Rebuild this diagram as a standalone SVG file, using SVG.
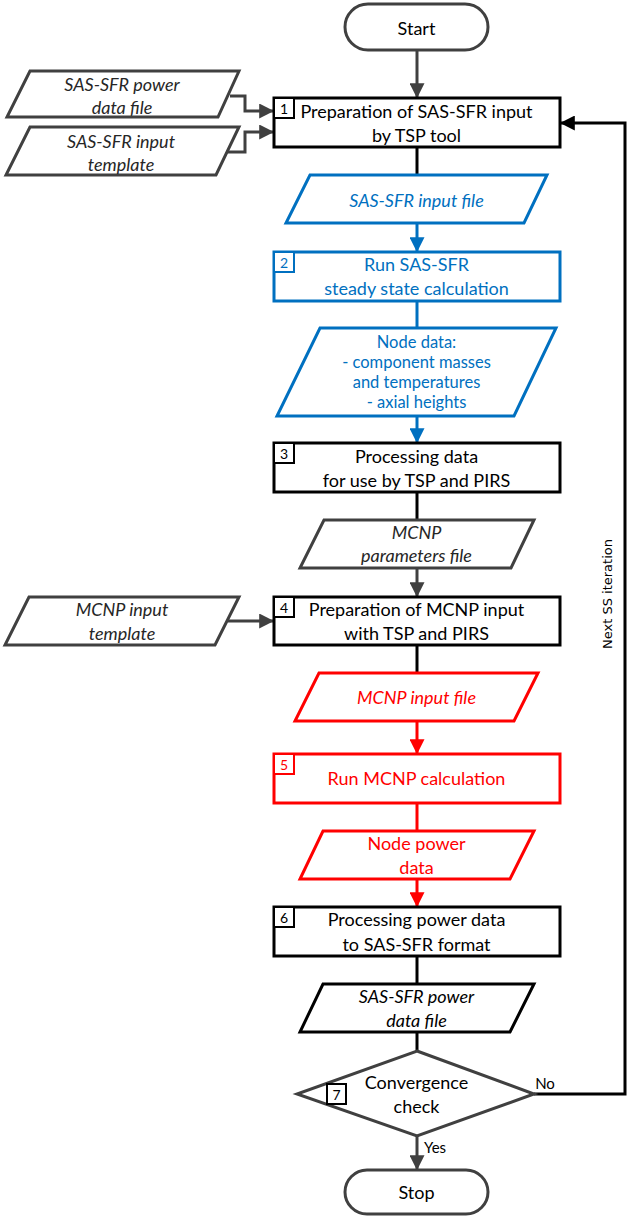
<svg xmlns="http://www.w3.org/2000/svg" width="627" height="1216" viewBox="0 0 627 1216">
<style>
text{font-family:Lato,"Open Sans","Liberation Sans",sans-serif;text-anchor:middle;dominant-baseline:central}
.t{font-size:18px}
.s{font-size:16.5px}
.i{font-style:italic}
.n{font-size:14px}
.y{font-size:15px}
.nb{fill:#fff;stroke-width:2}
.shape{fill:#fff;stroke-width:3;stroke-linejoin:miter}
.gray{stroke:#404040}
.blk{stroke:#000}
.blue{stroke:#0070C0}
.red{stroke:#FF0000}
.cg{fill:#262626}
.cb{fill:#0070C0}
.cr{fill:#FF0000}
.ck{fill:#000}
.line{fill:none;stroke-width:3}
</style>
<defs>
<marker id="ag" markerWidth="5" markerHeight="5" refX="4.6" refY="2.5" orient="auto" markerUnits="strokeWidth"><path d="M0,0L5,2.5L0,5z" fill="#404040"/></marker>
<marker id="ak" markerWidth="5" markerHeight="5" refX="4.6" refY="2.5" orient="auto" markerUnits="strokeWidth"><path d="M0,0L5,2.5L0,5z" fill="#000"/></marker>
<marker id="ab" markerWidth="5" markerHeight="5" refX="4.6" refY="2.5" orient="auto" markerUnits="strokeWidth"><path d="M0,0L5,2.5L0,5z" fill="#0070C0"/></marker>
<marker id="ar" markerWidth="5" markerHeight="5" refX="4.6" refY="2.5" orient="auto" markerUnits="strokeWidth"><path d="M0,0L5,2.5L0,5z" fill="#FF0000"/></marker>
</defs>

<g id="connectors">
<path class="line gray" d="M417,50V97" marker-end="url(#ag)"/>
<path class="line gray" d="M230,96H245V111H273" marker-end="url(#ag)"/>
<path class="line gray" d="M228,152H245V132H273" marker-end="url(#ag)"/>
<path class="line blk" d="M417,147V175"/>
<path class="line blue" d="M417,223V251" marker-end="url(#ab)"/>
<path class="line blue" d="M417,301V328"/>
<path class="line blue" d="M417,416V442" marker-end="url(#ab)"/>
<path class="line blk" d="M417,492V520"/>
<path class="line gray" d="M417,568V596" marker-end="url(#ag)"/>
<path class="line gray" d="M228,621H273" marker-end="url(#ag)"/>
<path class="line blk" d="M417,645V673"/>
<path class="line red" d="M417,721V753" marker-end="url(#ar)"/>
<path class="line red" d="M417,803V831"/>
<path class="line red" d="M417,879V906" marker-end="url(#ar)"/>
<path class="line blk" d="M417,956V984"/>
<path class="line blk" d="M417,1032V1051"/>
<path class="line gray" d="M417,1136V1169" marker-end="url(#ag)"/>
<path class="line blk" d="M534,1094H625V123H561" marker-end="url(#ak)"/>
<text x="545" y="1083" class="y ck">No</text>
<text x="435" y="1147" class="y ck">Yes</text>
<text x="607" y="594" transform="rotate(-90 607 594)" style="font-family:'DejaVu Sans',sans-serif;font-size:13px" class="ck">Next SS iteration</text>
</g>

<g id="start">
<rect x="345" y="4" width="143" height="46" rx="23" class="shape gray"/>
<text x="416.5" y="28" class="t ck">Start</text>
</g>

<g id="in-power">
<polygon points="30,71 239,71 218,117 7,117" class="shape gray"/>
<text x="122" y="84" class="t i cg">SAS-SFR power</text>
<text x="122" y="107" class="t i cg">data file</text>
</g>

<g id="in-template">
<polygon points="30,127 239,127 216,175 6,175" class="shape gray"/>
<text x="121" y="141" class="t i cg">SAS-SFR input</text>
<text x="121" y="164" class="t i cg">template</text>
</g>

<g id="step1">
<rect x="274" y="98" width="286" height="49" class="shape blk"/>
<rect x="274" y="98" width="20" height="20" class="nb blk"/>
<text x="284" y="108.5" class="n ck">1</text>
<text x="416.5" y="111" class="t ck">Preparation of SAS-SFR input</text>
<text x="416.5" y="135" class="t ck">by TSP tool</text>
</g>

<g id="sas-input-file">
<polygon points="310,175 547,175 524,223 286,223" class="shape blue"/>
<text x="416.5" y="200" class="t i cb">SAS-SFR input file</text>
</g>

<g id="step2">
<rect x="274" y="252" width="286" height="49" class="shape blue"/>
<rect x="274" y="252" width="20" height="20" class="nb blue"/>
<text x="284" y="262.5" class="n cb">2</text>
<text x="416.5" y="264" class="t cb">Run SAS-SFR</text>
<text x="416.5" y="288" class="t cb">steady state calculation</text>
</g>

<g id="node-data">
<polygon points="320,328 556,328 514,416 277,416" class="shape blue"/>
<text x="416.5" y="342" class="s cb">Node data:</text>
<text x="416.5" y="362" class="s cb">- component masses</text>
<text x="416.5" y="382" class="s cb">and temperatures</text>
<text x="416.5" y="402" class="s cb">- axial heights</text>
</g>

<g id="step3">
<rect x="274" y="443" width="286" height="49" class="shape blk"/>
<rect x="274" y="443" width="20" height="20" class="nb blk"/>
<text x="284" y="453.5" class="n ck">3</text>
<text x="416.5" y="456" class="t ck">Processing data</text>
<text x="416.5" y="480" class="t ck">for use by TSP and PIRS</text>
</g>

<g id="mcnp-params">
<polygon points="324,520 534,520 511,568 300,568" class="shape gray"/>
<text x="416.5" y="532" class="t i cg">MCNP</text>
<text x="416.5" y="555" class="t i cg">parameters file</text>
</g>

<g id="mcnp-template">
<polygon points="29,597 239,597 215,645 5,645" class="shape gray"/>
<text x="122" y="609" class="t i cg">MCNP input</text>
<text x="122" y="633" class="t i cg">template</text>
</g>

<g id="step4">
<rect x="274" y="597" width="286" height="48" class="shape blk"/>
<rect x="274" y="597" width="20" height="20" class="nb blk"/>
<text x="284" y="607.5" class="n ck">4</text>
<text x="416.5" y="609" class="t ck">Preparation of MCNP input</text>
<text x="416.5" y="633" class="t ck">with TSP and PIRS</text>
</g>

<g id="mcnp-input-file">
<polygon points="319,673 538,673 514,721 295,721" class="shape red"/>
<text x="416.5" y="697" class="t i cr">MCNP input file</text>
</g>

<g id="step5">
<rect x="274" y="754" width="286" height="49" class="shape red"/>
<rect x="274" y="754" width="20" height="20" class="nb red"/>
<text x="284" y="764.5" class="n cr">5</text>
<text x="416.5" y="778" class="t cr">Run MCNP calculation</text>
</g>

<g id="node-power">
<polygon points="323,831 534,831 510,879 300,879" class="shape red"/>
<text x="416.5" y="843" class="t cr">Node power</text>
<text x="416.5" y="867" class="t cr">data</text>
</g>

<g id="step6">
<rect x="274" y="907" width="286" height="49" class="shape blk"/>
<rect x="274" y="907" width="20" height="20" class="nb blk"/>
<text x="284" y="917.5" class="n ck">6</text>
<text x="416.5" y="919" class="t ck">Processing power data</text>
<text x="416.5" y="944" class="t ck">to SAS-SFR format</text>
</g>

<g id="power-file">
<polygon points="323,984 534,984 510,1032 300,1032" class="shape blk"/>
<text x="416.5" y="996" class="t i ck">SAS-SFR power</text>
<text x="416.5" y="1020" class="t i ck">data file</text>
</g>

<g id="step7">
<polygon points="417,1051 534,1094 417,1136 297,1094" class="shape gray"/>
<rect x="327" y="1084" width="19" height="20" class="nb blk"/>
<text x="336.5" y="1094.5" class="n ck">7</text>
<text x="416.5" y="1082" class="t ck">Convergence</text>
<text x="416.5" y="1106" class="t ck">check</text>
</g>

<g id="stop">
<rect x="345" y="1170" width="143" height="44" rx="22" class="shape gray"/>
<text x="416.5" y="1192" class="t ck">Stop</text>
</g>
</svg>
